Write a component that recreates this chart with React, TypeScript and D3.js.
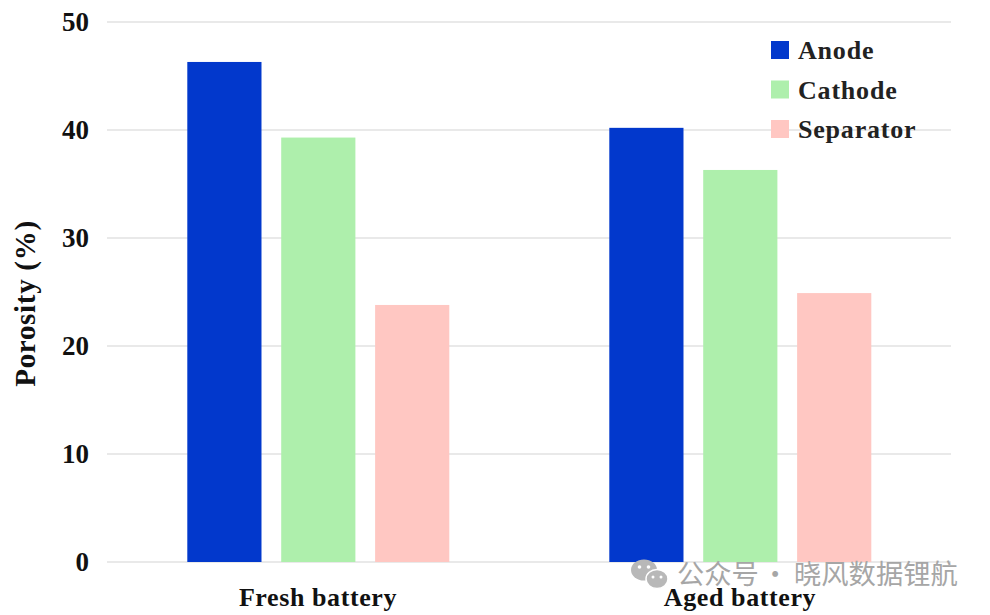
import React from 'react';
import * as d3 from 'd3';

const groups = ['Fresh battery', 'Aged battery'];
const seriesNames = ['Anode', 'Cathode', 'Separator'];
const colors = ['#0238cc', '#aeefac', '#ffc7c2'];
const anode = [46.3, 40.2];
const cathode = [39.3, 36.3];
const separator = [23.8, 24.9];
const yTicks = [0, 10, 20, 30, 40, 50];

const width = 990;
const height = 615;
const font = '"Liberation Serif", "Times New Roman", serif';

export default function App() {
  const y = d3.scaleLinear().domain([0, 50]).range([562, 22]);
  const x0 = d3.scaleBand().domain(groups).range([107, 951]);
  const x1 = d3.scaleBand().domain(seriesNames).range([-130.7, 131.3]).paddingInner(0.21).paddingOuter(0);
  const values = [anode, cathode, separator];

  return (
    <svg
      width={width}
      height={height}
      style={{ position: 'absolute', left: 0, top: 0, background: '#fff' }}
      fontFamily={font}
      fontWeight="bold"
      fill="#111"
    >
      {yTicks.map((t) => (
        <g key={t}>
          <line x1={107} x2={951} y1={y(t)} y2={y(t)} stroke="#e9e9e9" strokeWidth={2} />
          <text x={89} y={y(t)} dy="0.35em" textAnchor="end" fontSize={27}>{t}</text>
        </g>
      ))}
      {groups.map((g, gi) => {
        const cx = (x0(g) || 0) + x0.bandwidth() / 2;
        return (
          <g key={g}>
            {seriesNames.map((s, si) => (
              <rect
                key={s}
                x={cx + (x1(s) || 0)}
                y={y(values[si][gi])}
                width={x1.bandwidth()}
                height={y(0) - y(values[si][gi])}
                fill={colors[si]}
              />
            ))}
            <text x={cx} y={606} textAnchor="middle" fontSize={26} letterSpacing={0.6}>{g}</text>
          </g>
        );
      })}
      <text transform="translate(35,303.5) rotate(-90)" textAnchor="middle" fontSize={29} letterSpacing={0.7}>Porosity (%)</text>
      {seriesNames.map((s, i) => (
        <g key={s} transform={`translate(771,${41 + i * 39.5})`}>
          <rect width={18} height={18} fill={colors[i]} />
          <text x={27} y={9.2} dy="0.35em" fontSize={26} letterSpacing={0.8} fill="#222">{s}</text>
        </g>
      ))}
      {/* watermark */}
      <g>
        <ellipse cx={644} cy={570} rx={13} ry={10.5} fill="#b8b8b8" />
        <circle cx={639.5} cy={567} r={1.8} fill="#fff" />
        <circle cx={648.5} cy={567} r={1.8} fill="#fff" />
        <ellipse cx={657} cy={579} rx={11} ry={9.5} fill="#b8b8b8" stroke="#fff" strokeWidth={1.5} />
        <circle cx={653} cy={577} r={1.5} fill="#fff" />
        <circle cx={661} cy={577} r={1.5} fill="#fff" />
        <text x={677} y={584} fontFamily={'"Noto Sans CJK SC", sans-serif'} fontWeight="normal" fontSize={27.3} fill="#a6a6a6">
          公众号<tspan x={761.5}>·</tspan><tspan x={794}>晓风数据锂航</tspan>
        </text>
      </g>
    </svg>
  );
}
